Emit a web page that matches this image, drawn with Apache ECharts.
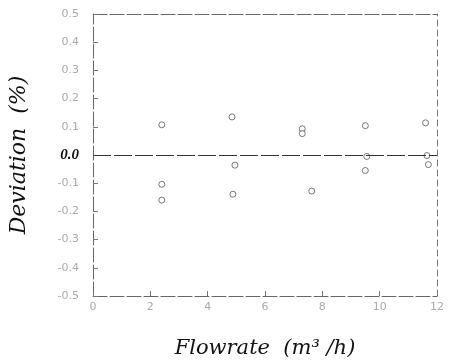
<!DOCTYPE html>
<html>
<head>
<meta charset="utf-8">
<script src="https://cdn.jsdelivr.net/npm/echarts@6/dist/echarts.min.js"></script>
<style>
  html, body { margin: 0; padding: 0; background: #fff; }
  #main { width: 459px; height: 364px; }
</style>
</head>
<body>
<div id="main"></div>
<script>
// measured points (flowrate m3/h, deviation %)
const flowrate = [2.4, 4.85, 7.3, 7.3, 9.5, 11.6, 9.55, 9.5, 11.65, 11.7, 4.95, 2.4, 2.4, 4.88, 7.63];
const deviation = [0.107, 0.135, 0.093, 0.076, 0.104, 0.114, -0.005, -0.055, -0.002, -0.034, -0.036, -0.104, -0.16, -0.139, -0.128];

const xTicks = [0, 2, 4, 6, 8, 10, 12];
const yTicks = [-0.5, -0.4, -0.3, -0.2, -0.1, 0.0, 0.1, 0.2, 0.3, 0.4, 0.5];

const data = flowrate.map((x, i) => [x, deviation[i]]);

const chart = echarts.init(document.getElementById('main'));

const lineGray = { color: '#666', width: 1, type: [14, 3] };

chart.setOption({
  animation: false,
  grid: { left: 93, right: 22, top: 14, bottom: 65 },
  xAxis: [{
    type: 'value', min: 0, max: 12, interval: 2,
    axisLine: { show: true, onZero: false, lineStyle: lineGray },
    axisTick: { show: true, inside: true, length: 5, lineStyle: { color: '#777' } },
    axisLabel: {
      color: '#aaa', fontSize: 11, fontFamily: 'DejaVu Sans', margin: 6,
      formatter: v => xTicks.includes(v) ? String(v) : ''
    },
    splitLine: { show: false },
    name: 'Flowrate  (m³ /h)',
    nameLocation: 'middle',
    nameGap: 42,
    nameTextStyle: { fontFamily: 'DejaVu Serif', fontStyle: 'italic', fontSize: 21, color: '#111' }
  }, {
    type: 'value', min: 0, max: 12, position: 'top',
    axisLine: { show: true, onZero: false, lineStyle: lineGray },
    axisTick: { show: false }, axisLabel: { show: false }, splitLine: { show: false }
  }],
  yAxis: [{
    type: 'value', min: -0.5, max: 0.5, interval: 0.1,
    axisLine: { show: true, onZero: false, lineStyle: lineGray },
    axisTick: { show: true, inside: true, length: 5, lineStyle: { color: '#777' } },
    axisLabel: {
      margin: 14,
      formatter: v => {
        const t = yTicks.find(k => Math.abs(k - v) < 1e-6);
        if (t === undefined) return '';
        return Math.abs(t) < 1e-6 ? '{z|0.0}' : t.toFixed(1);
      },
      color: '#aaa', fontSize: 11, fontFamily: 'DejaVu Sans',
      rich: { z: { fontFamily: 'Liberation Serif', fontStyle: 'italic', fontWeight: 'bold', fontSize: 15, color: '#111' } }
    },
    splitLine: { show: false },
    name: 'Deviation  (%)',
    nameLocation: 'middle',
    nameGap: 63,
    nameRotate: 90,
    nameTextStyle: { fontFamily: 'DejaVu Serif', fontStyle: 'italic', fontSize: 22, color: '#111' }
  }, {
    type: 'value', min: -0.5, max: 0.5, position: 'right',
    axisLine: { show: true, onZero: false, lineStyle: { color: '#777', width: 1, type: [6, 4] } },
    axisTick: { show: false }, axisLabel: { show: false }, splitLine: { show: false }
  }],
  series: [{
    type: 'scatter',
    data: data,
    symbol: 'circle',
    symbolSize: 6,
    itemStyle: { color: '#fff', borderColor: '#555', borderWidth: 1 },
    markLine: {
      silent: true,
      symbol: 'none',
      label: { show: false },
      lineStyle: { color: '#333', width: 1, type: [18, 3] },
      data: [{ yAxis: 0 }]
    },
    z: 3
  }]
});
</script>
</body>
</html>
